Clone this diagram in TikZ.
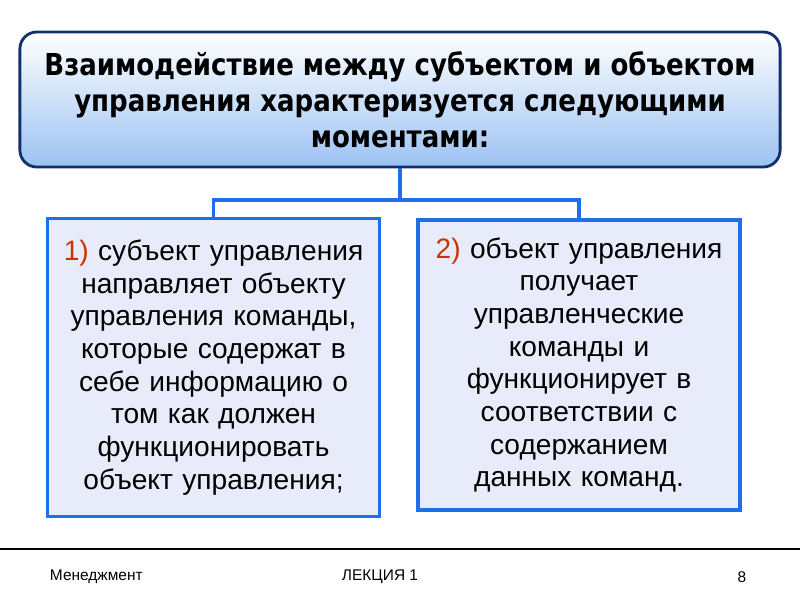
\documentclass[tikz,border=0pt]{standalone}
\usepackage{fontspec}
\setmainfont{Liberation Sans}
\newfontfamily\headfont[FakeStretch=0.86]{DejaVu Sans}
\usepackage{tikz}
\usetikzlibrary{positioning}

\definecolor{linkblue}{HTML}{1F6FE8}
\definecolor{boxfill}{HTML}{E8ECFA}
\definecolor{headline}{HTML}{12306E}
\definecolor{headfill}{HTML}{9CC2F2}
\definecolor{numred}{HTML}{CC3300}

\begin{document}
\begin{tikzpicture}[
  x=0.025cm, y=-0.025cm,
  headbox/.style={draw=headline, line width=2pt, rounded corners=12pt, top color=white, bottom color=headfill, minimum width=19cm, minimum height=3.375cm, align=center, font=\headfont\bfseries\fontsize{21.5}{25.5}\selectfont},
  pointbox/.style={draw=linkblue, line width=2.6pt, fill=boxfill, align=center, font=\fontsize{20}{23.2}\selectfont},
  link/.style={draw=linkblue, line width=2.6pt},
  foot/.style={font=\fontsize{11}{13}\selectfont}
]
\useasboundingbox (0,0) rectangle (800,600);

% Heading
\node[headbox] (head) at (400,99.5) {Взаимодействие между субъектом и объектом\\управления характеризуется следующими\\моментами:};

% Points
\node[pointbox, minimum width=8.3cm, minimum height=7.45cm, text width=7.9cm] (left) at (213.5,367.5) {{\color{numred}1)} субъект управления\\направляет объекту\\управления команды,\\которые содержат в\\себе информацию о\\том как должен\\функционировать\\объект управления;};
\node[pointbox, minimum width=8.05cm, minimum height=7.25cm, text width=7.7cm] (right) at (579,365) {{\color{numred}2)} объект управления\\получает\\управленческие\\команды и\\функционирует в\\соответствии с\\содержанием\\данных команд.};

% Connectors
\coordinate (fork) at (400,200);
\draw[link] (head.south) -- (fork);
\draw[link] (left.north) |- (fork) -| (right.north);

% Footer
\draw[line width=1pt] (0,549) -- (800,549);
\node[foot, anchor=west] (subject) at (45,577) {Менеджмент};
\node[foot] (lecture) at (380,577) {ЛЕКЦИЯ 1};
\node[foot] (page) at (742,577) {8};
\end{tikzpicture}
\end{document}
